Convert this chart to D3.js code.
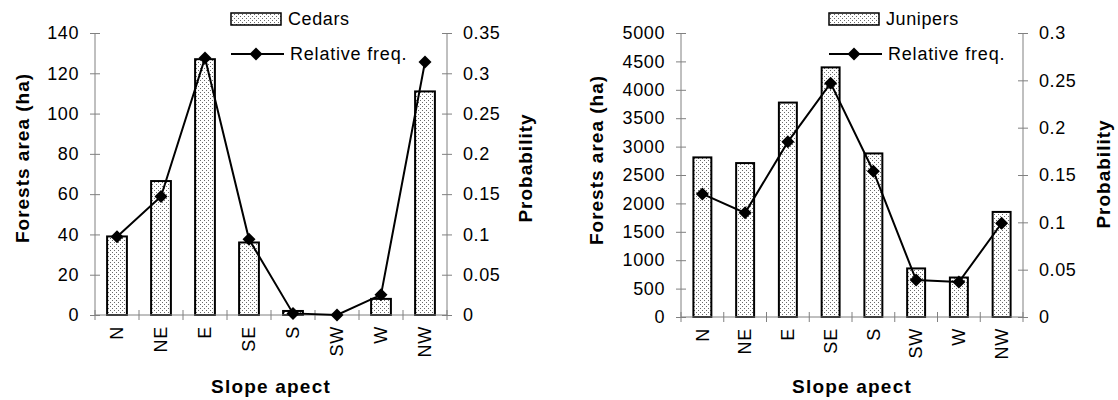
<!DOCTYPE html>
<html>
<head>
<meta charset="utf-8">
<script src="https://cdn.jsdelivr.net/npm/d3@7/dist/d3.min.js"></script>
<style>
  html, body { margin: 0; padding: 0; background: #fff; }
  svg { display: block; font-family: "Liberation Sans", Arial, sans-serif; }
</style>
</head>
<body>
<svg id="chart" width="1118" height="400"></svg>
<script>
// ---------- data ----------
const categories = ["N", "NE", "E", "SE", "S", "SW", "W", "NW"];

const cedarsArea = [39, 66.5, 127, 36, 2, 0, 8, 111];
const cedarsFreq = [0.097, 0.147, 0.319, 0.094, 0.002, 0, 0.025, 0.314];

const junipersArea = [2810, 2710, 3775, 4395, 2880, 855, 695, 1850];
const junipersFreq = [0.130, 0.110, 0.185, 0.247, 0.154, 0.039, 0.037, 0.099];

const cedarsAreaTicks = [0, 20, 40, 60, 80, 100, 120, 140];
const cedarsFreqTicks = [0, 0.05, 0.1, 0.15, 0.2, 0.25, 0.3, 0.35];
const junipersAreaTicks = [0, 500, 1000, 1500, 2000, 2500, 3000, 3500, 4000, 4500, 5000];
const junipersFreqTicks = [0, 0.05, 0.1, 0.15, 0.2, 0.25, 0.3];

const xTitle = "Slope apect";
const yLeftTitle = "Forests area (ha)";
const yRightTitle = "Probability";
const lineLegend = "Relative freq.";

// ---------- drawing ----------
const svg = d3.select("#chart");
const defs = svg.append("defs");
const pat = defs.append("pattern")
  .attr("id", "dots").attr("patternUnits", "userSpaceOnUse")
  .attr("width", 4).attr("height", 4);
pat.append("rect").attr("width", 4).attr("height", 4).attr("fill", "#ffffff");
pat.append("rect").attr("x", 0).attr("y", 0).attr("width", 1).attr("height", 1).attr("fill", "#6a6a6a");
pat.append("rect").attr("x", 2).attr("y", 2).attr("width", 1).attr("height", 1).attr("fill", "#6a6a6a");

const AXIS = "#808080";
const FS = 18;
const fmt = d => String(+(+d).toFixed(2));
const diamond = "M0,-6.5L6.5,0L0,6.5L-6.5,0Z";

function drawChart(cfg) {
  const g = svg.append("g");
  const x = d3.scaleBand().domain(categories).range([cfg.x0, cfg.x1]).padding(0);
  const yL = d3.scaleLinear().domain([cfg.leftTicks[0], cfg.leftTicks[cfg.leftTicks.length - 1]]).range([cfg.yBot, cfg.yTop]);
  const yR = d3.scaleLinear().domain([cfg.rightTicks[0], cfg.rightTicks[cfg.rightTicks.length - 1]]).range([cfg.yBot, cfg.yTop]);
  const bw = x.bandwidth() * cfg.barFrac;

  // bars
  g.selectAll("rect.bar").data(cfg.area).join("rect")
    .attr("class", "bar")
    .attr("x", (d, i) => x(categories[i]) + x.bandwidth() / 2 - bw / 2)
    .attr("y", d => yL(d))
    .attr("width", bw)
    .attr("height", d => yL(0) - yL(d))
    .attr("fill", "url(#dots)")
    .attr("stroke", "#000").attr("stroke-width", 2);

  // left axis
  const axL = g.append("g").attr("transform", `translate(${cfg.x0},0)`)
    .call(d3.axisLeft(yL).tickValues(cfg.leftTicks).tickSize(5).tickPadding(11).tickFormat(fmt));
  axL.selectAll("line").attr("x1", 5);
  // right axis
  const axR = g.append("g").attr("transform", `translate(${cfg.x1},0)`)
    .call(d3.axisRight(yR).tickValues(cfg.rightTicks).tickSize(5).tickPadding(11).tickFormat(fmt));
  axR.selectAll("line").attr("x1", -5);
  // bottom axis
  const axB = g.append("g").attr("transform", `translate(0,${cfg.yBot})`);
  axB.append("line").attr("x1", cfg.x0).attr("x2", cfg.x1).attr("stroke", AXIS);
  const bounds = categories.map(c => x(c)).concat([cfg.x1]);
  axB.selectAll("line.tk").data(bounds).join("line").attr("class", "tk")
    .attr("x1", d => d).attr("x2", d => d).attr("y1", -5).attr("y2", 5).attr("stroke", AXIS);
  axB.selectAll("text.cat").data(categories).join("text").attr("class", "cat")
    .attr("transform", d => `translate(${x(d) + x.bandwidth() / 2},11) rotate(-90)`)
    .attr("text-anchor", "end").attr("dy", "0.35em")
    .attr("font-size", FS).attr("letter-spacing", 0.8).text(d => d);

  [axL, axR].forEach(a => {
    a.select(".domain").attr("stroke", AXIS).attr("d", `M0,${cfg.yTop}V${cfg.yBot}`);
    a.selectAll(".tick line").attr("stroke", AXIS);
    a.selectAll("text").attr("font-size", FS).attr("fill", "#000")
      .attr("font-family", "Liberation Sans, Arial, sans-serif").attr("letter-spacing", 0.6);
  });

  // line
  const line = d3.line().x((d, i) => x(categories[i]) + x.bandwidth() / 2).y(d => yR(d));
  g.append("path").datum(cfg.freq).attr("d", line)
    .attr("fill", "none").attr("stroke", "#000").attr("stroke-width", 2);
  g.selectAll("path.mk").data(cfg.freq).join("path").attr("class", "mk")
    .attr("d", diamond)
    .attr("transform", (d, i) => `translate(${x(categories[i]) + x.bandwidth() / 2},${yR(d)})`)
    .attr("fill", "#000");

  // titles
  g.append("text").attr("x", (cfg.x0 + cfg.x1) / 2).attr("y", 393)
    .attr("text-anchor", "middle").attr("font-weight", "bold").attr("font-size", 19)
    .attr("letter-spacing", 1.2).text(xTitle);
  g.append("text").attr("transform", `translate(${cfg.yLeftX},${cfg.yLeftY}) rotate(-90)`)
    .attr("text-anchor", "middle").attr("dy", "0.35em").attr("font-weight", "bold").attr("font-size", 19)
    .attr("letter-spacing", 1).text(yLeftTitle);
  g.append("text").attr("transform", `translate(${cfg.yRightX},${cfg.yRightY}) rotate(-90)`)
    .attr("text-anchor", "middle").attr("dy", "0.35em").attr("font-weight", "bold").attr("font-size", 19)
    .attr("letter-spacing", 1).text(yRightTitle);

  // legend
  const lg = g.append("g");
  lg.append("rect").attr("x", cfg.legX).attr("y", 13).attr("width", 50).attr("height", 12)
    .attr("fill", "url(#dots)").attr("stroke", "#000").attr("stroke-width", 1.5);
  lg.append("text").attr("x", cfg.legX + 57).attr("y", 19).attr("dy", "0.35em")
    .attr("font-size", FS).attr("letter-spacing", 0.6).text(cfg.name);
  lg.append("line").attr("x1", cfg.legX).attr("x2", cfg.legX + 53).attr("y1", 54).attr("y2", 54)
    .attr("stroke", "#000").attr("stroke-width", 2);
  lg.append("path").attr("d", diamond).attr("transform", `translate(${cfg.legX + 25},54)`).attr("fill", "#000");
  lg.append("text").attr("x", cfg.legX + 59).attr("y", 54).attr("dy", "0.35em")
    .attr("font-size", FS).attr("letter-spacing", 0.8).text(lineLegend);
}

drawChart({
  name: "Cedars", area: cedarsArea, freq: cedarsFreq,
  leftTicks: cedarsAreaTicks, rightTicks: cedarsFreqTicks,
  x0: 95, x1: 447, yTop: 33, yBot: 315, barFrac: 0.45,
  yLeftX: 22, yLeftY: 158, yRightX: 525, yRightY: 168, legX: 231
});
drawChart({
  name: "Junipers", area: junipersArea, freq: junipersFreq,
  leftTicks: junipersAreaTicks, rightTicks: junipersFreqTicks,
  x0: 681, x1: 1023, yTop: 33, yBot: 317, barFrac: 0.42,
  yLeftX: 596, yLeftY: 160, yRightX: 1103, yRightY: 174, legX: 829
});
</script>
</body>
</html>
